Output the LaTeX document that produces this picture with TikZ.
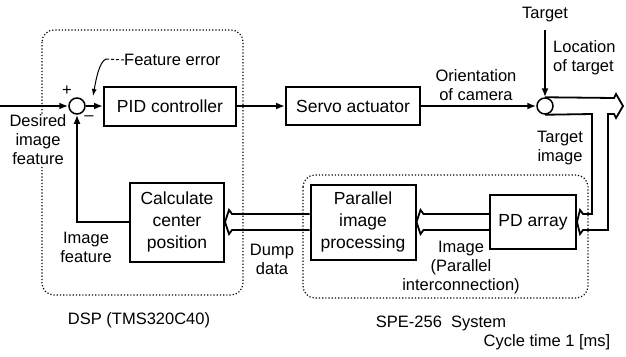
\documentclass[tikz,border=0pt]{standalone}
\usepackage{fontspec}
\setmainfont{Liberation Sans}
\usetikzlibrary{arrows.meta,positioning}

\newcommand\blockfont{\fontsize{17.5}{22}\selectfont}
\newcommand\labelfont{\fontsize{16.5}{19}\selectfont}

\tikzset{
  block/.style={draw, line width=2pt, align=center, inner sep=2pt, font=\blockfont},
  sumpt/.style={draw, circle, line width=1.5pt, minimum size=16pt, inner sep=0pt},
  lbl/.style={align=center, inner sep=0pt, font=\labelfont},
  signal/.style={line width=1.8pt, ->},
  bus/.style={line width=1.8pt, line join=miter},
  unit/.style={dotted, line width=1.2pt, rounded corners=12pt},
}

% wide bus from the west side of #1 into the east side of #2
\newcommand\busleft[2]{%
  \draw[bus] ([yshift=8pt]#1.west) -- ([shift={(7pt,8pt)}]#2.east)
    -- ([shift={(4pt,12pt)}]#2.east) -- (#2.east)
    -- ([shift={(4pt,-12pt)}]#2.east) -- ([shift={(7pt,-8pt)}]#2.east)
    -- ([yshift=-8pt]#1.west);}

\begin{document}
\begin{tikzpicture}[x=1pt,y=-1pt,on grid,>={Latex[length=9pt,width=7pt]}]
\useasboundingbox (0,0) rectangle (626,356);

% processor boundaries
\draw[unit] (42,30) rectangle (243,295);
\draw[unit] (303,175) rectangle (588,298);

\node[block, minimum width=132pt, minimum height=39pt] (pid) at (170,106) {PID controller};
\node[block, minimum width=134pt, minimum height=38pt, right=183pt of pid] (servo) {Servo actuator};
\node[sumpt, left=93pt of pid] (sum1) {};
\node[sumpt, right=192pt of servo] (sum2) {};
\node[block, minimum width=94pt, minimum height=79pt, below right=116pt and 7pt of pid] (calc) {Calculate\\center\\position};
\node[block, minimum width=105pt, minimum height=75pt, right=186pt of calc] (pip) {Parallel\\image\\processing};
\node[block, minimum width=86pt, minimum height=54pt, right=170pt of pip] (pd) {PD array};

% labels
\node[lbl, fill=white, inner sep=1pt] (desired) at (38,140) {Desired\\image\\feature};
\node[lbl] (plus) at (67,91) {+};
\node[lbl] (minus) at (89,118) {–};
\node[lbl, anchor=west] (ferr) at (124,60) {Feature error};
\node[lbl] (orient) at (476,85) {Orientation\\of camera};
\node[lbl] (target) at (545,15) {Target};
\node[lbl, align=left, anchor=west] (loc) at (553,58) {Location\\of target};
\node[lbl] (timg) at (560,148) {Target\\image};
\node[lbl] (imgpar) at (461,268) {Image\\(Parallel\\interconnection)};
\node[lbl] (dump) at (272,259) {Dump\\data};
\node[lbl] (imgfeat) at (86,247) {Image\\feature};
\node[lbl] (dsp) at (139,320) {DSP (TMS320C40)};
\node[lbl] (spe) at (441,323) {SPE-256\ \ System};
\node[lbl] (cycle) at (547,342) {Cycle time 1 [ms]};

% signal lines
\coordinate (in) at (0,106);
\coordinate (tgt) at (545,30);
\draw[signal] (in) -- (sum1);
\draw[signal] (sum1) -- (pid);
\draw[signal] (pid) -- (servo);
\draw[signal] (servo) -- (sum2);
\draw[signal] (tgt) -- (sum2);
\draw[signal] (calc.west) -| (sum1);

% feature error pointer
\coordinate (fe1) at (106,59);
\draw[line width=1pt, densely dashed] (ferr.west) -- (fe1);
\draw[line width=1pt, -{Latex[length=7pt,width=5pt]}] (fe1) .. controls (99,62) and (96,80) .. (93,96);

% target image bus, out to the right and down into the PD array
\draw[bus] (sum2.north) -- (614,98) -- (616,94) -- (623,106) -- (616,118) -- (614,114)
  -- (608,114) -- (608,230) -- (583,230) -- (580,234) -- (pd.east) -- (580,210)
  -- (583,214) -- (592,214) -- (592,114) -- (sum2.south);

% parallel data buses
\busleft{pd}{pip}
\busleft{pip}{calc}

\end{tikzpicture}
\end{document}
